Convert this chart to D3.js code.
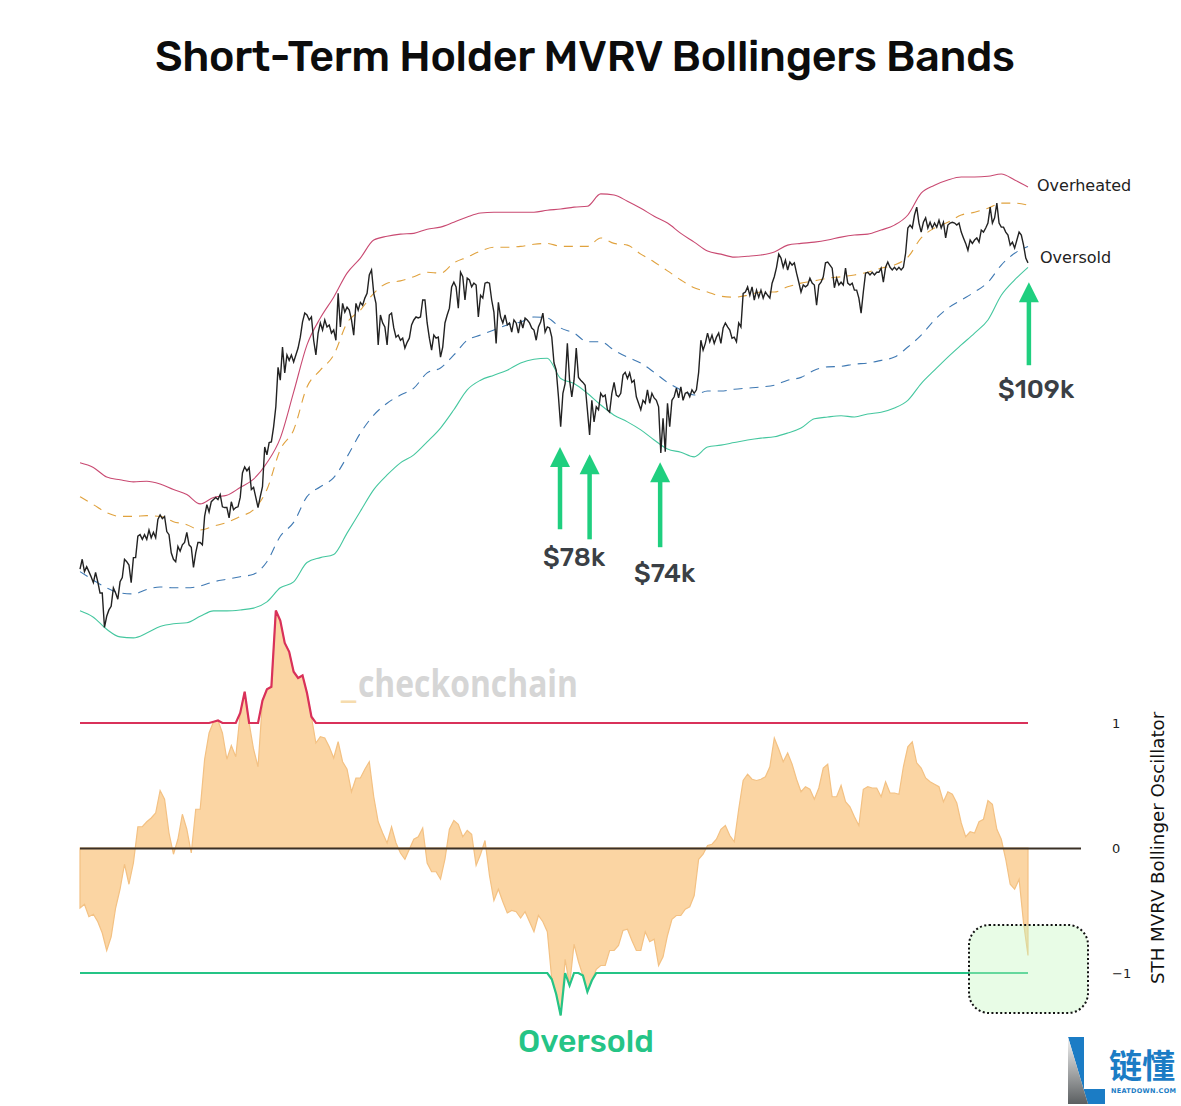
<!DOCTYPE html>
<html>
<head>
<meta charset="utf-8">
<script src="https://cdn.jsdelivr.net/npm/d3@7"></script>
<style>
  html, body { margin: 0; padding: 0; background: #fff; }
  svg { display: block; }
  text { font-family: "DejaVu Sans", sans-serif; }
</style>
</head>
<body>
<svg id="chart" width="1181" height="1106"></svg>
<script>
// daily, starts 2024-07-25, $k
const priceK = [
  58.1,59.3,57.8,58.4,57.8,57.2,56.5,57.7,56.6,55.3,55.3,51.5,52.7,53.4,53.8,55.9,55.3,54.6,56.6,57.1,
  59.3,59.0,58.6,56.5,59.5,59.5,62.2,62.4,61.8,62.4,61.8,63.0,62.0,62.7,62.0,64.4,65.0,64.5,64.8,62.8,
  62.4,60.1,59.3,59.0,60.9,60.3,61.1,61.4,62.7,61.1,60.8,58.3,60.1,61.4,61.4,61.1,64.8,66.4,65.4,66.8,
  67.1,67.4,67.1,67.8,66.1,66.0,66.0,64.6,66.8,65.7,66.0,66.1,67.4,70.9,71.8,71.2,71.7,68.5,68.8,67.4,
  66.0,67.5,68.9,74.8,73.6,75.5,75.6,78.0,81.3,88.2,85.9,92.0,87.2,90.5,89.5,90.5,89.2,90.5,91.8,93.9,
  96.9,98.7,98.3,97.3,97.9,93.3,90.5,94.7,96.7,95.3,97.3,95.9,96.3,94.7,95.3,93.3,102.8,95.9,100.7,98.9,
  99.9,99.3,97.3,94.3,100.7,99.3,100.9,100.3,101.8,102.8,106.8,107.9,102.8,100.7,92.4,98.3,96.7,95.9,92.4,98.3,
  98.7,95.7,93.9,94.3,93.3,93.7,91.8,92.9,93.7,96.3,97.3,97.9,97.7,97.9,101.4,101.4,96.7,93.7,91.4,94.3,
  93.7,93.9,90.1,92.0,96.7,98.3,99.7,104.2,105.2,104.2,99.7,107.4,106.4,101.4,106.1,105.7,104.2,105.0,104.6,97.9,
  102.4,101.8,105.0,105.2,105.0,101.4,98.9,92.7,100.9,97.9,96.7,98.3,96.3,96.7,94.9,97.3,96.7,94.7,97.3,95.7,
  97.7,97.3,96.7,95.7,95.3,93.3,95.9,96.9,98.7,94.9,95.9,95.7,93.9,89.0,87.7,83.0,78.0,83.6,85.3,92.7,
  85.9,83.0,85.9,91.8,86.4,85.9,85.5,85.0,80.8,76.7,82.4,78.8,81.3,80.8,83.6,83.0,83.3,80.8,80.4,83.6,
  85.5,83.3,83.0,83.6,86.8,87.3,86.2,87.2,85.5,85.9,83.0,81.9,80.8,82.4,81.9,84.2,81.9,83.6,82.8,82.4,
  81.3,73.9,79.4,74.1,81.9,78.0,82.4,83.0,84.5,82.8,84.7,82.4,83.6,83.8,83.0,84.2,83.6,84.2,87.3,93.3,
  91.4,92.7,94.7,93.0,94.3,92.7,93.9,94.7,92.7,95.7,96.7,95.9,95.3,93.7,93.9,93.0,96.7,95.9,102.8,103.1,
  104.2,102.4,104.2,101.4,103.5,102.0,103.5,101.8,103.1,102.4,101.8,105.0,106.4,108.5,111.5,110.6,108.5,110.1,107.9,109.7,
  109.0,109.5,107.2,105.2,103.1,104.6,104.2,104.6,106.1,105.0,104.6,100.3,104.6,105.2,106.4,109.5,109.7,109.0,108.3,104.0,
  106.1,104.6,105.2,104.6,108.3,105.0,104.6,105.0,103.5,103.5,101.8,98.7,103.1,107.2,107.4,106.8,107.4,106.8,107.4,107.4,
  108.3,105.2,108.5,109.7,108.5,107.9,108.5,107.9,108.5,107.9,108.5,111.7,117.7,118.4,117.7,120.9,122.9,118.9,116.7,119.1,
  120.2,117.7,119.1,117.7,118.9,117.9,119.6,117.7,119.1,115.3,118.4,118.9,119.1,118.9,118.4,118.9,116.7,115.3,114.0,112.4,
  114.8,114.0,114.8,115.3,114.3,117.2,116.7,117.7,118.9,122.9,118.9,120.2,123.9,118.9,117.9,117.9,116.7,116.0,113.6,114.3,
  112.9,114.8,116.7,116.0,113.6,110.6,109.5
];

// every 6 days, $k
const overheatedK = [
  72.4,71.7,70.3,69.9,69.6,69.7,69.3,68.5,67.8,66.5,67.4,67.7,68.8,70.0,72.4,76.2,83.8,92.4,97.7,102.0,
  107.2,110.6,114.8,115.7,116.2,116.4,117.4,117.9,119.1,120.4,121.4,121.6,121.6,121.6,121.6,122.1,122.4,122.9,123.1,126.3,
  126.0,124.4,122.6,120.6,118.9,116.4,114.3,112.2,111.5,110.8,111.0,111.3,112.0,113.6,114.0,114.3,114.8,115.5,116.0,116.2,
  117.2,118.4,120.9,126.5,128.6,130.0,130.8,130.8,131.0,131.6,130.0,128.1
];
const upperMidK = [
  67.5,66.4,65.3,64.8,64.8,64.9,64.8,64.1,63.7,63.0,63.5,64.0,64.8,65.7,68.5,74.4,77.5,84.7,87.7,90.5,
  96.7,99.3,102.8,105.0,105.5,106.4,107.4,107.2,109.5,110.8,112.2,113.1,113.1,113.3,113.8,114.0,113.3,113.3,113.3,115.3,
  114.0,113.6,111.5,109.7,107.7,105.7,104.0,103.1,102.2,102.0,102.4,103.1,103.1,104.2,105.0,105.5,106.1,106.4,106.8,107.4,
  108.3,109.0,110.8,115.3,117.7,119.1,120.9,121.6,122.6,123.9,123.9,123.4
];
const lowerMidK = [
  57.8,56.8,55.9,55.3,55.2,55.7,56.0,55.9,55.9,56.1,56.6,56.9,57.2,57.5,59.0,62.2,64.0,67.5,68.9,70.2,
  73.3,77.0,79.9,81.9,83.3,84.5,87.2,88.1,90.5,93.3,94.3,95.3,96.3,96.9,97.9,97.7,95.7,94.7,93.0,93.0,
  91.4,90.1,89.0,87.3,85.5,84.2,83.3,84.0,84.0,84.3,84.5,84.7,85.0,85.9,86.4,87.7,88.3,88.4,88.8,89.0,
  89.5,90.1,92.0,94.3,97.3,99.7,101.4,103.1,105.2,109.0,111.7,113.3
];
const oversoldK = [
  53.3,52.6,51.3,50.5,50.4,50.9,51.6,51.9,52.0,52.7,53.3,53.3,53.4,53.6,54.3,55.9,56.6,58.9,59.5,59.9,
  62.6,65.5,68.5,70.6,72.4,73.6,75.6,77.8,80.8,84.2,85.9,86.8,87.7,89.0,89.7,89.9,86.2,85.3,83.6,81.6,
  79.9,78.8,77.5,75.9,74.5,74.0,73.3,74.8,75.1,75.5,75.9,76.2,76.4,77.0,77.8,79.3,79.6,79.8,79.6,80.1,
  80.4,81.1,82.4,85.3,87.7,90.1,92.4,94.7,97.3,102.4,105.7,108.5
];

// every 2 days
const oscillator = [
  -0.48,-0.45,-0.55,-0.53,-0.59,-0.68,-0.82,-0.71,-0.48,-0.33,-0.13,-0.29,-0.12,0.17,0.17,0.21,0.24,0.28,0.46,0.39,
  0.12,-0.05,0.07,0.27,0.15,-0.04,0.31,0.31,0.71,0.92,1.01,1.02,0.92,0.71,0.82,0.73,1.08,1.25,1.0,0.79,
  0.65,1.18,1.27,1.29,1.9,1.82,1.64,1.57,1.41,1.36,1.38,1.24,1.05,0.84,0.89,0.88,0.81,0.72,0.85,0.69,
  0.63,0.45,0.56,0.56,0.63,0.69,0.41,0.21,0.12,0.04,0.17,0.04,-0.04,-0.09,-0.01,0.07,0.09,0.16,-0.12,-0.19,
  -0.19,-0.25,-0.09,0.15,0.22,0.19,0.09,0.14,0.11,-0.14,-0.05,0.06,-0.22,-0.42,-0.33,-0.43,-0.52,-0.5,-0.51,-0.56,
  -0.51,-0.59,-0.67,-0.54,-0.59,-0.67,-1.05,-1.17,-1.34,-0.89,-1.1,-0.77,-0.91,-1.02,-1.15,-1.06,-0.97,-0.94,-0.94,-0.82,
  -0.82,-0.78,-0.66,-0.65,-0.74,-0.82,-0.82,-0.67,-0.75,-0.73,-0.94,-0.87,-0.7,-0.57,-0.54,-0.54,-0.49,-0.47,-0.38,-0.09,
  -0.05,0.02,0.03,0.07,0.15,0.18,0.1,0.05,0.31,0.54,0.59,0.55,0.54,0.55,0.57,0.65,0.88,0.79,0.69,0.76,
  0.67,0.55,0.45,0.49,0.47,0.39,0.48,0.64,0.67,0.41,0.41,0.5,0.37,0.33,0.25,0.18,0.47,0.49,0.48,0.48,
  0.41,0.53,0.44,0.44,0.43,0.65,0.81,0.85,0.68,0.64,0.56,0.53,0.51,0.49,0.37,0.45,0.43,0.36,0.2,0.09,
  0.13,0.12,0.21,0.23,0.38,0.35,0.15,0.07,-0.09,-0.29,-0.33,-0.25,-0.6,-0.86
];

const oscTicks = [-1, 0, 1];

const arrowDays = [215.7, 229, 260.7, 426.4];
const arrowTipK = [74.8, 73.7, 72.5, 105.2];
const arrowTailK = [63.1, 61.8, 60.8, 88.6];

const startDate = new Date(Date.UTC(2024, 6, 25));
const dayDate = d => startDate.getTime() + d * 864e5;

const x = d3.scaleUtc()
  .domain([startDate, new Date(dayDate(426))])
  .range([80, 1028]);
const yPrice = d3.scaleLog().domain([50.7, 132.7]).range([635, 170]);
const yOsc = d3.scaleLinear().domain([-1, 1]).range([973, 723]);

const svg = d3.select('#chart');
const xDay = d => x(new Date(dayDate(d)));

const bandLine = d3.line()
  .x((d, i) => xDay(i * 6))
  .y(d => yPrice(d))
  .curve(d3.curveMonotoneX);

function drawBand(values, color, dash) {
  svg.append('path')
    .datum(values)
    .attr('d', bandLine)
    .attr('fill', 'none')
    .attr('stroke', color)
    .attr('stroke-width', 1.1)
    .attr('stroke-dasharray', dash);
}

drawBand(overheatedK, '#c94a72', null);
drawBand(upperMidK, '#e0a23e', '9 7');
drawBand(lowerMidK, '#3f79b3', '9 7');
drawBand(oversoldK, '#45c79f', null);

svg.append('path')
  .datum(priceK)
  .attr('d', d3.line().x((d, i) => xDay(i)).y(d => yPrice(d)))
  .attr('fill', 'none')
  .attr('stroke', '#222')
  .attr('stroke-width', 1.4);

// lower panel
const oscX = (d, i) => xDay(i * 2);

svg.append('path')
  .datum(oscillator)
  .attr('d', d3.area().x(oscX).y0(yOsc(0)).y1(d => yOsc(d)))
  .attr('fill', '#fbd5a3')
  .attr('stroke', '#f3c183')
  .attr('stroke-width', 1.2);

svg.append('line')
  .attr('x1', 80).attr('x2', 1081)
  .attr('y1', yOsc(0) + 0.5).attr('y2', yOsc(0) + 0.5)
  .attr('stroke', '#3a3026')
  .attr('stroke-width', 2);

svg.append('path')
  .datum(oscillator)
  .attr('d', d3.line().x(oscX).y(d => yOsc(Math.max(d, 1))))
  .attr('fill', 'none')
  .attr('stroke', '#d9315a')
  .attr('stroke-width', 2.2);

svg.append('path')
  .datum(oscillator)
  .attr('d', d3.line().x(oscX).y(d => yOsc(Math.min(d, -1))))
  .attr('fill', 'none')
  .attr('stroke', '#25c486')
  .attr('stroke-width', 2.2);

svg.append('rect')
  .attr('x', 969).attr('y', 925)
  .attr('width', 119).attr('height', 88)
  .attr('rx', 20)
  .attr('fill', '#c6f7c1')
  .attr('fill-opacity', 0.4)
  .attr('stroke', '#111')
  .attr('stroke-width', 2)
  .attr('stroke-dasharray', '2 2.4');

const axis = d3.axisRight(yOsc)
  .tickValues(oscTicks)
  .tickSize(0)
  .tickPadding(0)
  .tickFormat(d3.format('d'));

const axisG = svg.append('g')
  .attr('transform', 'translate(1112,0)')
  .call(axis);
axisG.select('.domain').remove();
axisG.selectAll('text')
  .style('font-size', '13px')
  .style('font-family', '"DejaVu Sans"')
  .attr('fill', '#222');

// arrows
const arrowColor = '#1fcf7f';
arrowDays.forEach((d, i) => {
  const ax = xDay(d);
  const tip = yPrice(arrowTipK[i]);
  const tail = yPrice(arrowTailK[i]);
  svg.append('line')
    .attr('x1', ax).attr('x2', ax)
    .attr('y1', tip + 18).attr('y2', tail)
    .attr('stroke', arrowColor)
    .attr('stroke-width', 4.5);
  svg.append('path')
    .attr('d', `M${ax},${tip}L${ax + 10},${tip + 20}L${ax - 10},${tip + 20}Z`)
    .attr('fill', arrowColor);
});

// text
const head = 'Rubik, Lato, sans-serif';
function label(str, tx, ty, size, color, weight, family) {
  return svg.append('text')
    .attr('x', tx).attr('y', ty)
    .attr('fill', color)
    .style('font-size', size + 'px')
    .style('font-weight', weight)
    .style('font-family', family)
    .text(str);
}

label('Short-Term Holder MVRV Bollingers Bands', 155, 71, 43, '#0c0c0c', 500, head)
  .attr('textLength', 860).attr('lengthAdjust', 'spacing');
label('$78k', 543, 566, 26, '#3a3f45', 500, head);
label('$74k', 634, 582, 26, '#3a3f45', 500, head);
label('$109k', 998, 398, 26, '#3a3f45', 500, head);
label('Oversold', 518, 1052, 32, '#25c486', 500, head);
label('Overheated', 1037, 191, 16, '#222', 400, '"DejaVu Sans"');
label('Oversold', 1040, 263, 16, '#222', 400, '"DejaVu Sans"');
label('checkonchain', 358, 697, 37, '#d6d6d6', 700, '"Open Sans"')
  .attr('textLength', 220).attr('lengthAdjust', 'spacingAndGlyphs');
label('_', 341, 697, 37, '#f6dcae', 700, '"Open Sans"');

svg.append('text')
  .attr('transform', 'translate(1164,984) rotate(-90)')
  .attr('fill', '#111')
  .style('font-size', '18.2px')
  .style('font-family', '"DejaVu Sans"')
  .text('STH MVRV Bollinger Oscillator');

// logo
const logoGrad = svg.append('defs').append('linearGradient')
  .attr('id', 'logoGray')
  .attr('x1', 0).attr('y1', 0).attr('x2', 0).attr('y2', 1);
logoGrad.append('stop').attr('offset', '0%').attr('stop-color', '#f4f4f4');
logoGrad.append('stop').attr('offset', '100%').attr('stop-color', '#5b5f61');

svg.append('path')
  .attr('d', 'M1068,1037L1084,1037L1084,1089L1105,1089L1105,1104L1088,1104Z')
  .attr('fill', '#1b7cc5');
svg.append('path')
  .attr('d', 'M1068,1037L1088,1104L1068,1104Z')
  .attr('fill', 'url(#logoGray)');
label('链懂', 1109, 1078, 33, '#1b7cc5', 700, '"Noto Sans CJK SC"');
label('NEATDOWN.COM', 1111, 1093, 6.5, '#1b7cc5', 700, '"DejaVu Sans"')
  .attr('textLength', 65);
</script>
</body>
</html>
